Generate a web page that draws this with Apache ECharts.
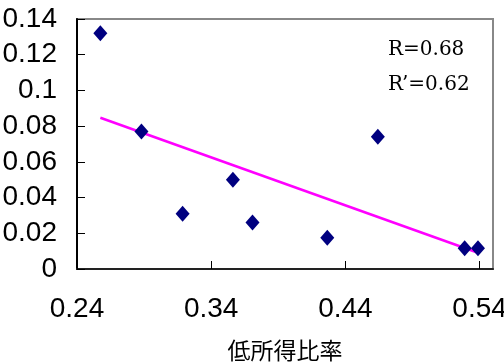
<!DOCTYPE html>
<html>
<head>
<meta charset="utf-8">
<script src="https://cdn.jsdelivr.net/npm/echarts@6/dist/echarts.min.js"></script>
<style>
  html, body { margin: 0; padding: 0; background: #fff; }
  #chart { width: 504px; height: 364px; }
</style>
</head>
<body>
<div id="chart"></div>
<script>
// points
const lowIncomeRatio = [0.2574, 0.288, 0.3187, 0.3562, 0.3708, 0.4265, 0.4642, 0.5289, 0.5388]
const yValues = [0.132, 0.077, 0.031, 0.050, 0.026, 0.0175, 0.074, 0.0116, 0.0116]
// trend line end points
const trendX = [0.2574, 0.5388]
const trendY = [0.0847, 0.0091]
const xTicks = [0.24, 0.34, 0.44, 0.54]
const xName = '低所得比率'
const notes = ['R=0.68', 'R\u2019=0.62']

const chart = echarts.init(document.getElementById('chart'))

const points = lowIncomeRatio.map((x, i) => [x, yValues[i]])
const trend = trendX.map((x, i) => [x, trendY[i]])

const labelFont = '"Liberation Sans Narrow", "Liberation Sans", sans-serif'

const option = {
    animation: false,
    grid: {
        left: 77,
        right: 11,
        top: 19,
        bottom: 95,
        outerBoundsMode: 'none',
        show: true,
        borderColor: '#888',
        borderWidth: 2
    },
    xAxis: {
        type: 'value',
        min: 0.24,
        max: 0.55,
        name: xName,
        nameLocation: 'middle',
        nameGap: 70,
        nameTextStyle: {
            fontFamily: 'Noto Sans CJK JP',
            fontSize: 23,
            color: '#000'
        },
        splitLine: { show: false },
        axisLine: { lineStyle: { color: '#222', width: 2 } },
        axisTick: {
            inside: true,
            length: 8,
            customValues: xTicks,
            lineStyle: { color: '#000' }
        },
        axisLabel: {
            customValues: xTicks,
            margin: 26,
            fontFamily: labelFont,
            fontSize: 28,
            color: '#000'
        }
    },
    yAxis: {
        type: 'value',
        min: 0,
        max: 0.14,
        interval: 0.02,
        splitLine: { show: false },
        axisLine: { show: true, lineStyle: { color: '#000', width: 2 } },
        axisTick: {
            show: true,
            inside: true,
            length: 8,
            lineStyle: { color: '#000' }
        },
        axisLabel: {
            margin: 20,
            fontFamily: labelFont,
            fontSize: 28,
            color: '#000'
        }
    },
    series: [
        {
            type: 'line',
            data: trend,
            symbol: 'none',
            lineStyle: { color: '#ff00ff', width: 2.5 },
            z: 1
        },
        {
            type: 'scatter',
            data: points,
            symbol: 'diamond',
            symbolSize: [14, 16],
            itemStyle: { color: '#000080', opacity: 1 },
            z: 2
        }
    ],
    graphic: notes.map((t, i) => ({
        type: 'text',
        left: 388,
        top: 40 + i * 35,
        style: {
            text: t,
            font: '20px "DejaVu Serif"',
            fill: '#000'
        }
    }))
}

chart.setOption(option)
</script>
</body>
</html>
